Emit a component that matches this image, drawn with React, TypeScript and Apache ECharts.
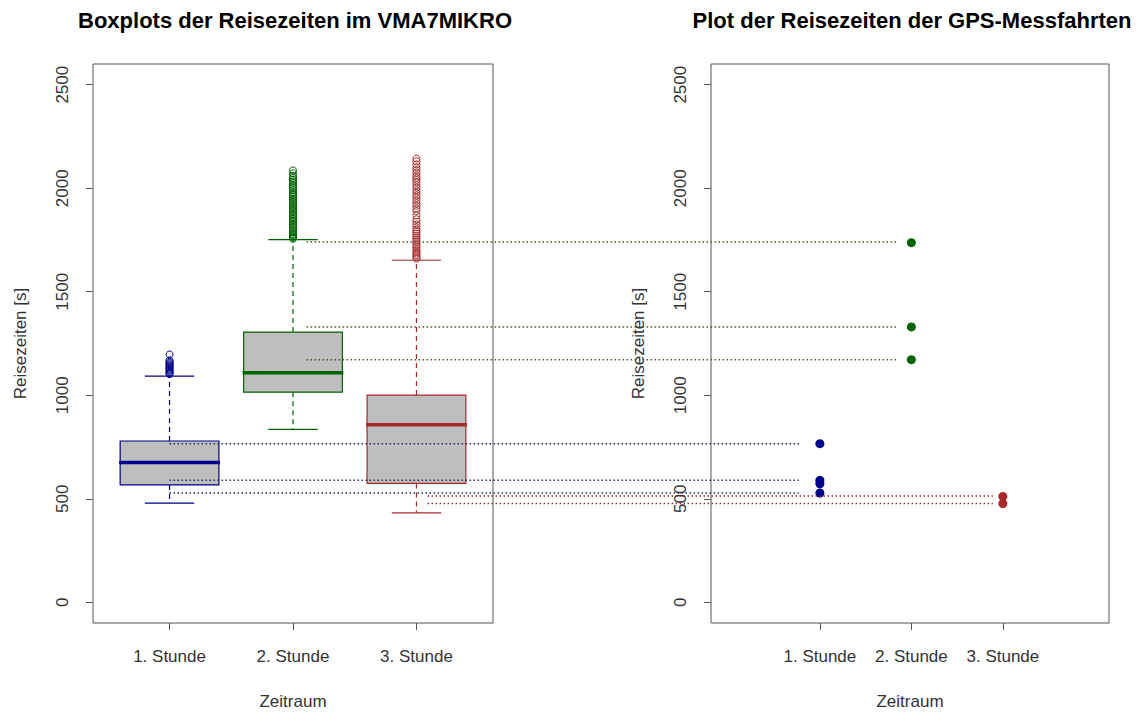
import React, { useEffect, useRef } from "react";
import * as echarts from "echarts";

const categories = ["1. Stunde", "2. Stunde", "3. Stunde"];
const xPositions = [1, 2, 3];
const yTicks = [0, 500, 1000, 1500, 2000, 2500];

const boxMin = [479, 835, 432];
const boxQ1 = [567, 1015, 574];
const boxMedian = [675, 1109, 858];
const boxQ3 = [779, 1305, 1001];
const boxMax = [1092, 1752, 1652];

const outliers1 = [1102, 1107, 1112, 1118, 1123, 1128, 1134, 1140, 1145, 1150, 1156, 1162, 1169, 1197];
const outliers2 = [
  1756, 1761, 1767, 1773, 1779, 1786, 1793, 1800, 1808, 1815, 1823, 1830, 1838, 1845, 1852,
  1860, 1868, 1875, 1883, 1890, 1898, 1905, 1913, 1920, 1928, 1935, 1943, 1950, 1958, 1965,
  1972, 1980, 1990, 2000, 2008, 2016, 2025, 2033, 2042, 2050, 2060, 2072, 2086,
];
const outliers3 = [
  1660, 1668, 1676, 1684, 1692, 1700, 1710, 1720, 1730, 1740, 1750, 1760, 1770, 1780, 1790,
  1800, 1812, 1825, 1838, 1850, 1869, 1890, 1903, 1915, 1928, 1940, 1953, 1965, 1978, 1990,
  2003, 2015, 2028, 2040, 2050, 2062, 2075, 2088, 2100, 2115, 2130, 2143,
];

const gps1 = [766, 589, 572, 528];
const gps2 = [1737, 1330, 1172];
const gps3 = [511, 477];

const refLines1 = [766, 590, 528];
const refLines2 = [1740, 1330, 1172];
const refLines3 = [513, 477];

const lineStartX = [1.0, 2.11, 3.09];
const lineEndX = [0.77, 1.84, 2.89];

const colors = ["#00008B", "#006400", "#A52A2A"];
const lineColors = ["#1B2A60", "#4B5A23", "#8B2A2A"];

const FONT = "'Liberation Sans', Arial, sans-serif";
const TXT = "#333";

export default function App() {
  const ref = useRef<HTMLDivElement>(null);
  useEffect(() => {
    if (!ref.current) return;
    const chart = echarts.init(ref.current, null, { renderer: "svg" });

    const boxData = xPositions.map((x, i) => [x, boxMin[i], boxQ1[i], boxMedian[i], boxQ3[i], boxMax[i]]);
    const outlierSets = [outliers1, outliers2, outliers3];
    const gpsSets = [gps1, gps2, gps3];
    const refSets = [refLines1, refLines2, refLines3];

    const yAxisBase = (gridIndex: number) => ({
      type: "value",
      gridIndex,
      min: -100,
      max: 2600,
      name: "Reisezeiten [s]",
      nameLocation: "middle",
      nameGap: 64,
      nameTextStyle: { fontSize: 17, color: TXT, fontFamily: FONT },
      axisLine: { show: false, onZero: false },
      splitLine: { show: false },
      axisTick: { show: true, length: 7, customValues: yTicks, lineStyle: { color: "#555" } },
      axisLabel: {
        rotate: 90,
        margin: 22,
        fontSize: 17,
        color: TXT,
        fontFamily: FONT,
        customValues: yTicks,
        formatter: (v: number) => String(v),
      },
    });

    const xAxisBase = (gridIndex: number, min: number, max: number) => ({
      type: "value",
      gridIndex,
      min,
      max,
      name: "Zeitraum",
      nameLocation: "middle",
      nameGap: 70,
      nameTextStyle: { fontSize: 17, color: TXT, fontFamily: FONT },
      axisLine: { show: false, onZero: false },
      splitLine: { show: false },
      axisTick: { show: true, length: 7, customValues: xPositions, lineStyle: { color: "#555" } },
      axisLabel: {
        margin: 25,
        fontSize: 17,
        color: TXT,
        fontFamily: FONT,
        customValues: xPositions,
        formatter: (v: number) => categories[Math.round(v) - 1] ?? "",
      },
    });

    const series: any[] = [
      {
        type: "custom",
        xAxisIndex: 0,
        yAxisIndex: 0,
        data: boxData,
        encode: { x: 0, y: [1, 2, 3, 4, 5] },
        z: 2,
        renderItem: (params: any, api: any) => {
          const x = api.value(0);
          const mn = api.value(1);
          const q1 = api.value(2);
          const md = api.value(3);
          const q3 = api.value(4);
          const mx = api.value(5);
          const c = colors[params.dataIndex];
          const tl = api.coord([x - 0.4, q3]);
          const br = api.coord([x + 0.4, q1]);
          const mL = api.coord([x - 0.4, md]);
          const mR = api.coord([x + 0.4, md]);
          const cTop = api.coord([x, q3]);
          const cMax = api.coord([x, mx]);
          const cBot = api.coord([x, q1]);
          const cMin = api.coord([x, mn]);
          const sMaxL = api.coord([x - 0.2, mx]);
          const sMaxR = api.coord([x + 0.2, mx]);
          const sMinL = api.coord([x - 0.2, mn]);
          const sMinR = api.coord([x + 0.2, mn]);
          return {
            type: "group",
            children: [
              {
                type: "line",
                shape: { x1: cTop[0], y1: cTop[1], x2: cMax[0], y2: cMax[1] },
                style: { stroke: c, lineWidth: 1.2, lineDash: [5, 4] },
              },
              {
                type: "line",
                shape: { x1: cBot[0], y1: cBot[1], x2: cMin[0], y2: cMin[1] },
                style: { stroke: c, lineWidth: 1.2, lineDash: [5, 4] },
              },
              {
                type: "line",
                shape: { x1: sMaxL[0], y1: sMaxL[1], x2: sMaxR[0], y2: sMaxR[1] },
                style: { stroke: c, lineWidth: 1.2 },
              },
              {
                type: "line",
                shape: { x1: sMinL[0], y1: sMinL[1], x2: sMinR[0], y2: sMinR[1] },
                style: { stroke: c, lineWidth: 1.2 },
              },
              {
                type: "rect",
                shape: { x: tl[0], y: tl[1], width: br[0] - tl[0], height: br[1] - tl[1] },
                style: { fill: "#BEBEBE", stroke: c, lineWidth: 1.2 },
              },
              {
                type: "line",
                shape: { x1: mL[0] - 1, y1: mL[1], x2: mR[0] + 1, y2: mR[1] },
                style: { stroke: c, lineWidth: 3.5 },
              },
            ],
          };
        },
      },
    ];

    outlierSets.forEach((set, i) => {
      series.push({
        type: "scatter",
        xAxisIndex: 0,
        yAxisIndex: 0,
        data: set.map((v) => [xPositions[i], v]),
        symbol: "circle",
        symbolSize: 7,
        z: 3,
        itemStyle: { color: "rgba(0,0,0,0)", borderColor: colors[i], borderWidth: 1, opacity: 1 },
      });
    });

    gpsSets.forEach((set, i) => {
      series.push({
        type: "scatter",
        xAxisIndex: 1,
        yAxisIndex: 1,
        data: set.map((v) => [xPositions[i], v]),
        symbol: "circle",
        symbolSize: 9,
        z: 3,
        itemStyle: { color: colors[i], opacity: 1 },
      });
    });

    const option: any = {
      animation: false,
      backgroundColor: "#fff",
      textStyle: { fontFamily: FONT },
      title: [
        {
          text: "Boxplots der Reisezeiten im VMA7MIKRO",
          left: 290,
          top: 4,
          textAlign: "center",
          textStyle: { fontSize: 22, fontWeight: "bold", color: "#000", fontFamily: FONT },
        },
        {
          text: "Plot der Reisezeiten der GPS-Messfahrten",
          left: 907,
          top: 4,
          textAlign: "center",
          textStyle: { fontSize: 22, fontWeight: "bold", color: "#000", fontFamily: FONT },
        },
      ],
      grid: [
        { left: 93, top: 64, width: 400, height: 560, show: true, borderColor: "#555", borderWidth: 1, backgroundColor: "transparent" },
        { left: 711, top: 64, width: 398, height: 560, show: true, borderColor: "#555", borderWidth: 1, backgroundColor: "transparent" },
      ],
      xAxis: [xAxisBase(0, 0.38, 3.62), xAxisBase(1, -0.19, 4.16)],
      yAxis: [yAxisBase(0), yAxisBase(1)],
      series,
    };

    chart.setOption(option);

    const graphics: any[] = [];
    refSets.forEach((set, i) => {
      set.forEach((v) => {
        const p1 = chart.convertToPixel({ gridIndex: 0 } as any, [lineStartX[i], v]) as number[];
        const p2 = chart.convertToPixel({ gridIndex: 1 } as any, [lineEndX[i], v]) as number[];
        graphics.push({
          type: "line",
          z: 100,
          silent: true,
          shape: { x1: p1[0], y1: p1[1], x2: p2[0], y2: p2[1] },
          style: { stroke: lineColors[i], lineWidth: 1.5, lineDash: [1.5, 2.5] },
        });
      });
    });
    chart.setOption({ graphic: graphics });

    return () => chart.dispose();
  }, []);

  return (
    <div
      ref={ref}
      style={{ position: "fixed", left: 0, top: 0, width: 1140, height: 715, background: "#fff" }}
    />
  );
}
